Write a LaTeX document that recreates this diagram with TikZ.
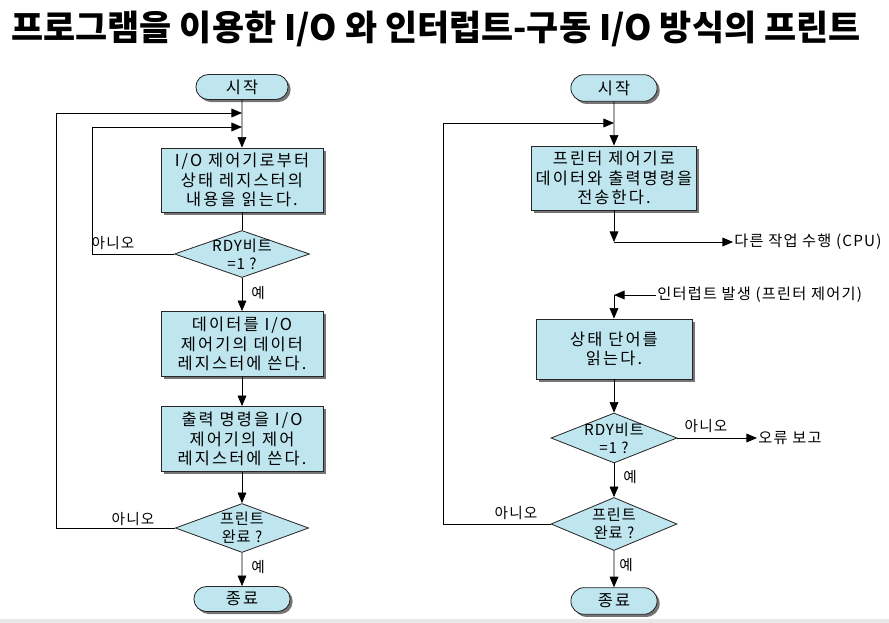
\documentclass[tikz,border=0pt]{standalone}
\usepackage{fontspec}
\setmainfont{Noto Sans CJK KR}
\newfontfamily\kofont[LetterSpace=13]{Noto Sans CJK KR}
\newfontfamily\notefont[LetterSpace=8]{Noto Sans CJK KR}
\newfontfamily\askfont[LetterSpace=6]{Noto Sans CJK KR}
\usetikzlibrary{shapes.geometric, shapes.misc, arrows.meta, positioning, shadows}

\definecolor{flowblue}{HTML}{BFE5EF}
\newcommand\headfont{\rmfamily\fontsize{29.8}{32}\selectfont\bfseries}

\tikzset{
  proc/.style={draw=black!85, fill=flowblue, line width=0.7pt,
    drop shadow={shadow xshift=2.2pt, shadow yshift=-2.2pt, fill=black!60, opacity=0.9}},
  term/.style={proc, rounded rectangle},
  decide/.style={diamond, aspect=2.8, draw=black!85, fill=flowblue, line width=0.7pt,
    inner sep=-4pt, font=\askfont\fontsize{13}{15.5}\selectfont},
  flow/.style={line width=0.6pt},
  lbl/.style={inner sep=1pt, font=\notefont\fontsize{12.5}{15}\selectfont},
  note/.style={inner sep=1pt, anchor=west, font=\notefont\fontsize{13}{15}\selectfont},
}

\begin{document}
\begin{tikzpicture}[x=0.03cm, y=-0.03cm, >={Triangle[length=9pt, width=7.5pt]},
  font=\kofont\fontsize{14}{16.5}\selectfont, align=center]
  \useasboundingbox (0,0) rectangle (889,623);
  \fill[black!9] (0,619) rectangle (889,623);

  \node (title) at (436,29) {\headfont 프로그램을 이용한 I/O 와 인터럽트-구동 I/O 방식의 프린트};

  % programmed I/O
  \node[term, minimum width=3cm, minimum height=0.75cm] (lstart) at (242,87) {시작};
  \node[proc, minimum width=4.86cm, minimum height=1.92cm] (lread) at (242,180)
    {I/O 제어기로부터\\상태 레지스터의\\내용을 읽는다.};
  \node[decide, minimum width=4.05cm, minimum height=1.41cm] (lrdy) at (242,254) {RDY비트\\=1 ?};
  \node[proc, minimum width=4.86cm, minimum height=1.95cm] (ldata) at (242,344)
    {데이터를 I/O\\제어기의 데이터\\레지스터에 쓴다.};
  \node[proc, minimum width=4.86cm, minimum height=1.95cm] (lcmd) at (242,439)
    {출력 명령을 I/O\\제어기의 제어\\레지스터에 쓴다.};
  \node[decide, minimum width=4cm, minimum height=1.47cm] (ldone) at (242,528) {프린트\\완료 ?};
  \node[term, minimum width=3.12cm, minimum height=0.75cm] (lend) at (242,599) {종료};

  \coordinate (lin1) at (242,113);
  \coordinate (lin2) at (242,127);
  \coordinate (lout1) at (56,113);
  \coordinate (lout2) at (92,127);

  \node[lbl] (lno1) at (113,243) {아니오};
  \node[lbl] (lyes1) at (258,293) {예};
  \node[lbl] (lno2) at (133,519) {아니오};
  \node[lbl] (lyes2) at (258,567) {예};

  \draw[flow, ->] (lstart) -- (lread);
  \draw[flow] (lread) -- (lrdy);
  \draw[flow, ->] (lrdy) -- (ldata);
  \draw[flow, ->] (ldata) -- (lcmd);
  \draw[flow, ->] (lcmd) -- (ldone);
  \draw[flow, ->] (ldone) -- (lend);
  \draw[flow, ->] (lrdy.west) -| (lout2) -- (lin2);
  \draw[flow, ->] (ldone.west) -| (lout1) -- (lin1);

  % interrupt-driven I/O
  \node[term, minimum width=2.82cm, minimum height=0.8cm] (rstart) at (614,88) {시작};
  \node[proc, minimum width=4.74cm, minimum height=1.92cm] (rsend) at (614,178)
    {프린터 제어기로\\데이터와 출력명령을\\전송한다.};
  \coordinate (rwait) at (614,242);
  \node[note] (rcpu) at (733,242) {다른 작업 수행 (CPU)};
  \coordinate (rint) at (614,295);
  \node[note] (rirq) at (656,295) {인터럽트 발생 (프린터 제어기)};
  \node[proc, minimum width=4.68cm, minimum height=1.8cm] (rread) at (614,349) {상태 단어를\\읽는다.};
  \node[decide, minimum width=3.78cm, minimum height=1.5cm] (rrdy) at (614,438) {RDY비트\\=1 ?};
  \node[note] (rerr) at (757,438) {오류 보고};
  \node[decide, minimum width=3.78cm, minimum height=1.59cm] (rdone) at (614,524) {프린트\\완료 ?};
  \node[term, minimum width=2.82cm, minimum height=0.8cm] (rend) at (614,601) {종료};

  \coordinate (rin) at (614,123);
  \coordinate (rout) at (443,123);

  \node[lbl] (rno1) at (706,426) {아니오};
  \node[lbl] (ryes1) at (630,477) {예};
  \node[lbl] (rno2) at (516,513) {아니오};
  \node[lbl] (ryes2) at (626,565) {예};

  \draw[flow, ->] (rstart) -- (rsend);
  \draw[flow, ->] (rsend) -- (rwait);
  \draw[flow, ->] (rwait) -- (rcpu);
  \draw[flow, ->] (rirq) -- (rint);
  \draw[flow, ->] (rint) -- (rread);
  \draw[flow, ->] (rread) -- (rrdy);
  \draw[flow, ->] (rrdy) -- (rerr);
  \draw[flow, ->] (rrdy) -- (rdone);
  \draw[flow, ->] (rdone) -- (rend);
  \draw[flow, ->] (rdone.west) -| (rout) -- (rin);
\end{tikzpicture}
\end{document}
